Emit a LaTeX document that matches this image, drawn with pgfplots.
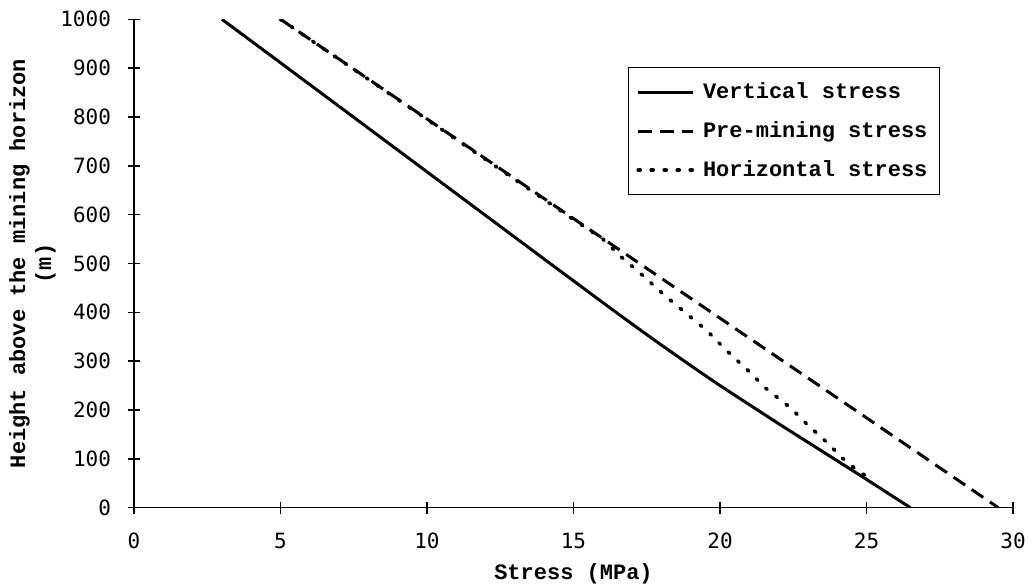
\documentclass[border=0pt]{standalone}
\usepackage{fontspec}
\setmainfont{Liberation Mono}
\newfontfamily\tickfont{DejaVu Sans Mono}
\usepackage{pgfplots}
\pgfplotsset{compat=1.18}
\begin{document}
\begin{tikzpicture}
\path[use as bounding box] (-67pt,-40.15pt) rectangle (449.5pt,253.85pt);
\begin{axis}[
  at={(0pt,0pt)}, anchor=south west,
  scale only axis,
  width=439.5pt, height=244.2pt,
  xmin=0, xmax=30, ymin=0, ymax=1000,
  axis x line*=bottom, axis y line*=left,
  axis line style={-, line width=0.8pt},
  xtick={0,5,...,30}, ytick={0,100,...,1000},
  tick align=center,
  major tick length=6pt,
  tick style={line width=0.7pt, black},
  /pgf/number format/assume math mode=true,
  /pgf/number format/1000 sep={},
  tick label style={font=\tickfont\fontsize{10.5}{12}\selectfont},
  xticklabel style={yshift=-6pt},
  yticklabel style={xshift=-5pt},
  xlabel={\bfseries Stress (MPa)},
  ylabel={\bfseries Height above the mining horizon\\\bfseries (m)},
  ylabel style={align=center, font=\fontsize{11}{13}\selectfont},
  ylabel shift=-4.5pt,
  xlabel style={font=\fontsize{11}{13}\selectfont, yshift=-0.5pt},
  legend style={at={(0.917,0.902)}, anchor=north east, draw=black, line width=0.6pt,
     font=\bfseries\fontsize{11}{13}\selectfont, row sep=6pt, inner xsep=4pt, inner ysep=5.5pt,
     legend cell align=left},
  legend image code/.code={\draw[#1] (0pt,0pt) -- (27.5pt,0pt); \path (29.5pt,0pt);},
]
\addplot[black, line width=1.5pt, line join=round] coordinates {
(3,1000) (5,911) (8,777) (11,643) (14,509) (16,420) (17,376) (18,333) (19,291) (20,250) (21,211) (22,172) (23,134) (24,96) (25,58) (26.5,0)
};
\addlegendentry{Vertical stress}
\addplot[black, line width=1.5pt, dash pattern=on 7pt off 4pt] coordinates {
(5,1000) (10,796) (15,592) (20,388) (25,184) (29.5,0)
};
\addlegendentry{Pre-mining stress}
\addplot[black, line width=1.8pt, line cap=round, dash pattern=on 1pt off 5.5pt] coordinates {
(5,1000) (10,795) (15,590) (16,550) (16.6,515) (17.39,474) (18.07,437) (18.82,399) (19.56,362) (20.24,321) (20.92,283) (21.61,242) (22.4,205) (22.97,171) (23.66,133) (24.34,92) (24.8,72) (25.25,55)
};
\addlegendentry{Horizontal stress}
\end{axis}
\end{tikzpicture}
\end{document}
